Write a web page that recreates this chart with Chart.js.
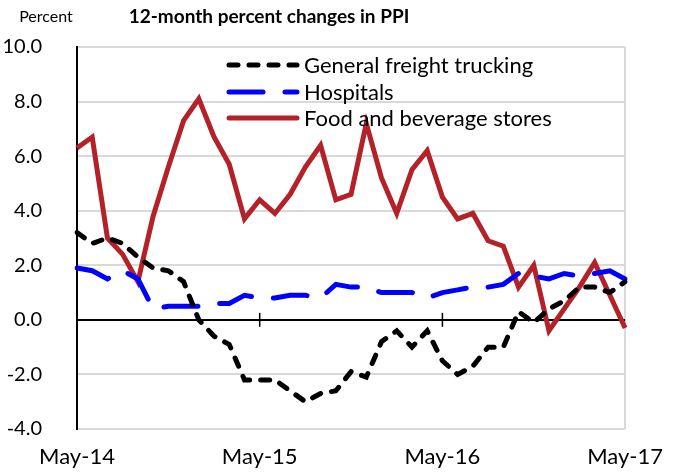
<!DOCTYPE html>
<html>
<head>
<meta charset="utf-8">
<script src="https://cdn.jsdelivr.net/npm/chart.js@4"></script>
<style>
  body { margin: 0; background: #fff; }
  #wrap { width: 678px; height: 476px; }
</style>
</head>
<body>
<div id="wrap"><canvas id="ppiChart" width="678" height="476"></canvas></div>
<script>
// monthly categories, May-14 .. May-17
const months = ['May-14','Jun-14','Jul-14','Aug-14','Sep-14','Oct-14','Nov-14','Dec-14',
  'Jan-15','Feb-15','Mar-15','Apr-15','May-15','Jun-15','Jul-15','Aug-15','Sep-15','Oct-15','Nov-15','Dec-15',
  'Jan-16','Feb-16','Mar-16','Apr-16','May-16','Jun-16','Jul-16','Aug-16','Sep-16','Oct-16','Nov-16','Dec-16',
  'Jan-17','Feb-17','Mar-17','Apr-17','May-17'];

const trucking = [3.2, 2.8, 3.0, 2.8, 2.3, 1.9, 1.8, 1.4, 0.0, -0.6, -0.9, -2.2, -2.2,
  -2.2, -2.6, -3.0, -2.7, -2.6, -1.9, -2.1, -0.8, -0.4, -1.0, -0.4, -1.5,
  -2.0, -1.7, -1.0, -1.0, 0.3, -0.1, 0.4, 0.7, 1.2, 1.2, 1.0, 1.4];

const hospitals = [1.9, 1.8, 1.5, 1.8, 1.5, 0.4, 0.5, 0.5, 0.5, 0.6, 0.6, 0.9, 0.8,
  0.8, 0.9, 0.9, 0.8, 1.3, 1.2, 1.2, 1.0, 1.0, 1.0, 0.8, 1.0,
  1.1, 1.2, 1.2, 1.3, 1.7, 1.6, 1.5, 1.7, 1.6, 1.7, 1.8, 1.5];

const foodStores = [6.3, 6.7, 3.0, 2.4, 1.4, 3.8, 5.6, 7.3, 8.1, 6.7, 5.7, 3.7, 4.4,
  3.9, 4.6, 5.6, 6.4, 4.4, 4.6, 7.2, 5.2, 3.9, 5.5, 6.2, 4.5,
  3.7, 3.9, 2.9, 2.7, 1.2, 2.0, -0.4, 0.4, 1.2, 2.1, 0.9, -0.3];

const seriesNames = ['General freight trucking', 'Hospitals', 'Food and beverage stores'];
const yTicks = [-4, -2, 0, 2, 4, 6, 8, 10];

const FONT = 'Lato, "Open Sans", sans-serif';

// title, axis caption, zero-line tick marks and the in-plot legend
const extras = {
  id: 'extras',
  afterDraw(chart) {
    let ctx = chart.ctx;
    let x = chart.scales.x, y = chart.scales.y;
    ctx.save();

    // small tick marks across the zero line at each year
    ctx.strokeStyle = '#000';
    ctx.lineWidth = 1.5;
    let y0 = y.getPixelForValue(0);
    [12, 24].forEach(i => {
      let px = x.getPixelForValue(i);
      ctx.beginPath();
      ctx.moveTo(px, y0 - 7);
      ctx.lineTo(px, y0 + 7);
      ctx.stroke();
    });

    ctx.fillStyle = '#000';
    ctx.textBaseline = 'middle';
    ctx.font = 'bold 19px ' + FONT;
    ctx.textAlign = 'center';
    ctx.fillText('12-month percent changes in PPI', 269, 17);
    ctx.font = '16px ' + FONT;
    ctx.fillText('Percent', 46, 17);

    // legend
    ctx.textAlign = 'left';
    ctx.font = '22px ' + FONT;
    ctx.lineCap = 'round';
    let rows = [65, 92, 118];
    chart.data.datasets.forEach((ds, i) => {
      ctx.strokeStyle = ds.borderColor;
      ctx.lineWidth = ds.borderWidth;
      ctx.setLineDash(ds.borderDash || []);
      ctx.beginPath();
      ctx.moveTo(229, rows[i]);
      ctx.lineTo(297, rows[i]);
      ctx.stroke();
      ctx.setLineDash([]);
      ctx.fillStyle = '#000';
      ctx.fillText(ds.label, 304, rows[i] + 1);
    });
    ctx.restore();
  }
};

new Chart(document.getElementById('ppiChart').getContext('2d'), {
  type: 'line',
  data: {
    labels: months,
    datasets: [{
      label: seriesNames[0],
      data: trucking,
      borderColor: '#000000',
      borderWidth: 5,
      borderDash: [9, 11],
      borderCapStyle: 'round',
      pointRadius: 0,
      tension: 0
    }, {
      label: seriesNames[1],
      data: hospitals,
      borderColor: '#0000FF',
      borderWidth: 5,
      borderDash: [34, 22],
      borderCapStyle: 'round',
      pointRadius: 0,
      tension: 0
    }, {
      label: seriesNames[2],
      data: foodStores,
      borderColor: '#B22228',
      borderWidth: 5,
      pointRadius: 0,
      tension: 0
    }]
  },
  options: {
    responsive: false,
    animation: false,
    devicePixelRatio: 1,
    layout: { padding: { top: 38, right: 50, left: 0, bottom: 0 } },
    plugins: {
      legend: { display: false },
      title: { display: false },
      tooltip: { enabled: false }
    },
    scales: {
      x: {
        type: 'category',
        offset: false,
        afterFit(scale) { scale.height = 42; },
        border: { display: false },
        grid: {
          drawTicks: false,
          color: ctx => ctx.index === months.length - 1 ? '#d9d9d9' : 'rgba(0,0,0,0)',
          lineWidth: 2
        },
        ticks: {
          autoSkip: false,
          maxRotation: 0,
          padding: 15,
          color: '#000',
          font: { family: FONT, size: 22 },
          callback: (v, i) => (i % 12 === 0 ? months[i] : '')
        }
      },
      y: {
        min: yTicks[0],
        max: yTicks[yTicks.length - 1],
        afterFit(scale) { scale.width = 77; },
        afterBuildTicks(scale) { scale.ticks = yTicks.map(v => ({ value: v })); },
        border: { display: true, color: '#000', width: 2 },
        grid: {
          drawTicks: false,
          color: ctx => ctx.tick && ctx.tick.value === 0 ? '#000' : '#d9d9d9',
          lineWidth: 2
        },
        ticks: {
          padding: 35,
          color: '#000',
          font: { family: FONT, size: 20 },
          callback: v => v.toFixed(1)
        }
      }
    }
  },
  plugins: [extras]
});
</script>
</body>
</html>
